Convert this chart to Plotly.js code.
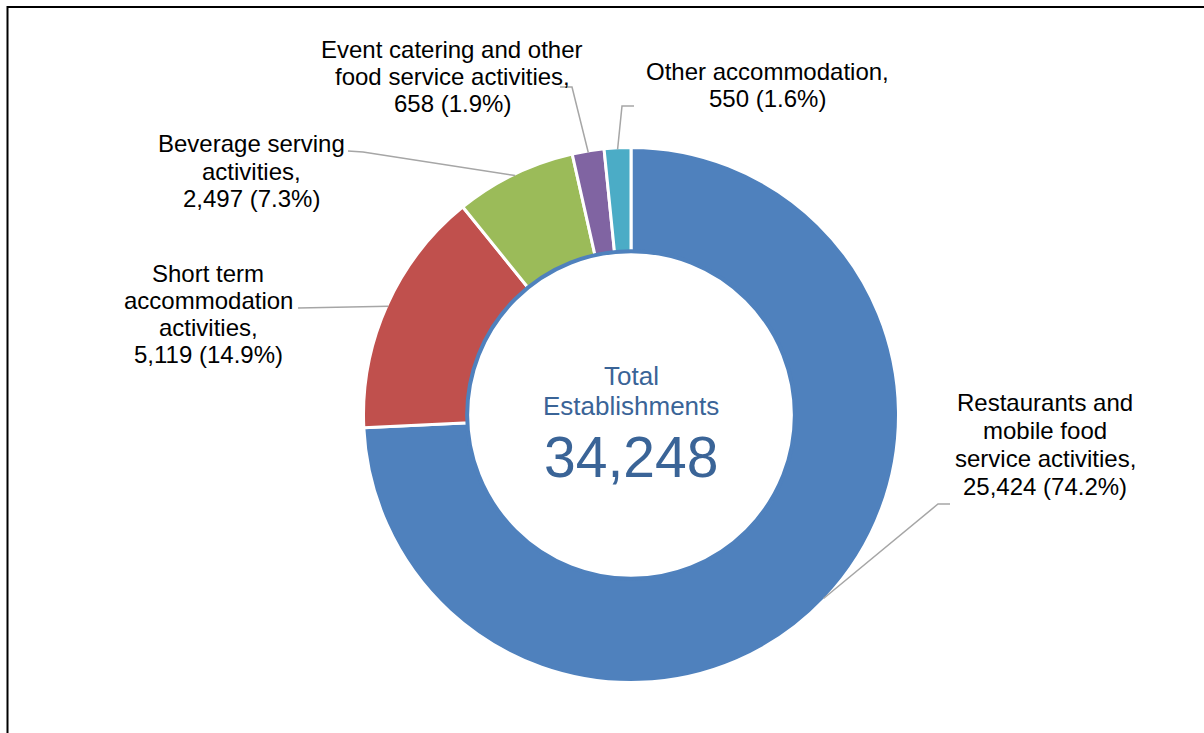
<!DOCTYPE html>
<html>
<head>
<meta charset="utf-8">
<script src="https://cdn.plot.ly/plotly-3.0.1.min.js"></script>
<style>
  html, body { margin: 0; padding: 0; background: #ffffff; }
  #chart { width: 1204px; height: 733px; }
</style>
</head>
<body>
<div id="chart"></div>
<script>
// ---- data ----
const categories = [
  "Restaurants and mobile food service activities",
  "Short term accommodation activities",
  "Beverage serving activities",
  "Event catering and other food service activities",
  "Other accommodation"
];
const labelLines = [
  ["Restaurants and", "mobile food", "service activities,"],
  ["Short term", "accommodation", "activities,"],
  ["Beverage serving", "activities,"],
  ["Event catering and other", "food service activities,"],
  ["Other accommodation,"]
];
const values = [25424, 5119, 2497, 658, 550];
const colors = ["#4F81BD", "#C0504D", "#9BBB59", "#8064A2", "#4BACC6"];
const centerTitle = ["Total", "Establishments"];

// ---- layout geometry (pixels) ----
const W = 1204, H = 733;
const CX = 631, CY = 415;         // donut centre
const R = 267.5;                  // pie radius (incl. half of white border)
const HOLE = 0.607;
const FONT = "Liberation Sans, Arial, sans-serif";

// label block centres (x) and first-line y, line spacing
const labelPos = [
  {x: 1045, y: 402, dy: 28},
  {x: 208,  y: 273, dy: 27},
  {x: 251,  y: 144, dy: 27.5},
  {x: 452,  y: 49,  dy: 27},
  {x: 767,  y: 72,  dy: 27}
];
// leader line path: elbow points after slice edge (pixels)
const leaderPts = [
  [[938, 504], [950, 504]],
  [[298, 308]],
  [[363, 152], [348, 151]],
  [[572, 87], [560, 87]],
  [[622, 106], [634, 106]]
];

const px = x => x / W;
const py = y => 1 - y / H;

const total = values.reduce((a, b) => a + b, 0);
const fmt = v => v.toLocaleString("en-US");

const annotations = [];
const shapes = [];

// frame
shapes.push({
  type: "rect", xref: "paper", yref: "paper",
  x0: px(7.5), x1: px(W + 20), y0: py(H + 20), y1: py(7),
  line: {color: "#000000", width: 2}, fillcolor: "rgba(0,0,0,0)", layer: "below"
});

// slice labels and leader lines
let cum = 0;
values.forEach((v, i) => {
  const pct = (v / total * 100).toFixed(1);
  const lines = labelLines[i].concat([fmt(v) + " (" + pct + "%)"]);
  const lp = labelPos[i];
  lines.forEach((t, k) => {
    annotations.push({
      xref: "paper", yref: "paper",
      x: px(lp.x), y: py(lp.y + k * lp.dy),
      xanchor: "center", yanchor: "middle",
      text: t, showarrow: false,
      font: {family: FONT, size: 24, color: "#000000"}
    });
  });
  const mid = (cum + v / 2) / total * 2 * Math.PI;
  cum += v;
  const rEdge = R - 1.5;
  const sx = CX + rEdge * Math.sin(mid);
  const sy = CY - rEdge * Math.cos(mid);
  let path = "M" + px(sx) + "," + py(sy);
  leaderPts[i].forEach(p => { path += " L" + px(p[0]) + "," + py(p[1]); });
  shapes.push({
    type: "path", xref: "paper", yref: "paper", path: path,
    line: {color: "#A6A6A6", width: 1.5}, layer: "above"
  });
});

// blue ring around hole
const rRing = R * HOLE + 1.5;
shapes.push({
  type: "circle", xref: "paper", yref: "paper",
  x0: px(CX - rRing), x1: px(CX + rRing),
  y0: py(CY + rRing), y1: py(CY - rRing),
  line: {color: "#4F81BD", width: 4}, fillcolor: "rgba(0,0,0,0)", layer: "above"
});

// centre text
annotations.push(
  {xref: "paper", yref: "paper", x: px(CX), y: py(376), xanchor: "center", yanchor: "middle",
   text: centerTitle[0], showarrow: false, font: {family: FONT, size: 26, color: "#3A6497"}},
  {xref: "paper", yref: "paper", x: px(CX), y: py(406), xanchor: "center", yanchor: "middle",
   text: centerTitle[1], showarrow: false, font: {family: FONT, size: 26, color: "#3A6497"}},
  {xref: "paper", yref: "paper", x: px(CX), y: py(457), xanchor: "center", yanchor: "middle",
   text: fmt(total), showarrow: false, font: {family: FONT, size: 57, color: "#3A6497"}}
);

const trace = {
  type: "pie",
  labels: categories,
  values: values,
  hole: HOLE,
  sort: false,
  direction: "clockwise",
  rotation: 0,
  textinfo: "none",
  hoverinfo: "label+value+percent",
  marker: {colors: colors, line: {color: "#ffffff", width: 3}},
  domain: {
    x: [px(CX - R), px(CX + R)],
    y: [py(CY + R), py(CY - R)]
  },
  showlegend: false
};

const layout = {
  width: W, height: H,
  margin: {l: 0, r: 0, t: 0, b: 0},
  paper_bgcolor: "#ffffff",
  plot_bgcolor: "#ffffff",
  showlegend: false,
  annotations: annotations,
  shapes: shapes,
  font: {family: FONT}
};

Plotly.newPlot("chart", [trace], layout, {displayModeBar: false, responsive: false});
</script>
</body>
</html>
